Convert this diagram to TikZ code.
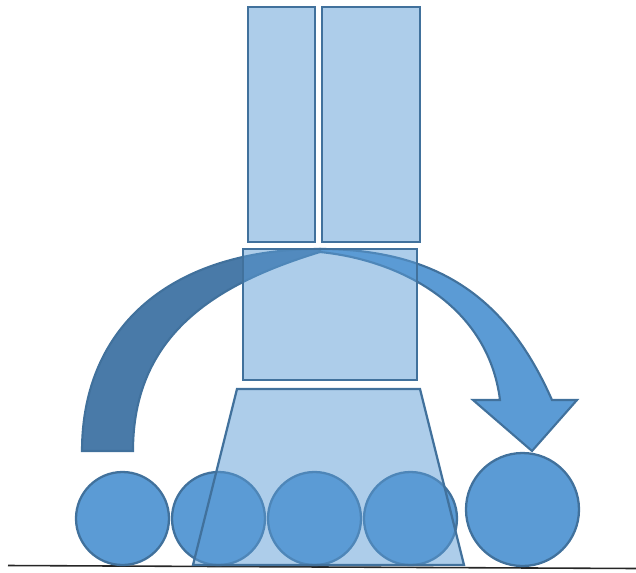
\documentclass[tikz,border=0pt]{standalone}
\usepackage{tikz}
\definecolor{officeblue}{RGB}{91,155,213}
\definecolor{edgeblue}{RGB}{65,113,156}
\definecolor{shadeblue}{RGB}{73,122,168}
\begin{document}
\begin{tikzpicture}[
    x=0.02cm, y=-0.02cm,
    part/.style={draw=edgeblue, line width=1.3pt, fill=officeblue, fill opacity=0.5},
    wheel/.style={draw=edgeblue, line width=1.3pt, fill=officeblue},
    band/.style={draw=edgeblue, line width=1.2pt, line join=miter}
]
\useasboundingbox (0,0) rectangle (636,572);
% ground line
\coordinate (groundL) at (8,565.5);
\coordinate (groundR) at (636,568.5);
\draw[line width=0.9pt, black!85] (groundL) -- (groundR);
% wheels
\foreach \cx [count=\i] in {122.5,218.5,314.5,410.5}
    \draw[wheel] (\cx,518.5) circle[radius=46.5];
\draw[wheel] (522.5,509.5) circle[radius=56.5];
% curved arrow, back half
\coordinate (topout) at (320,249);
\coordinate (topin) at (320,252);
\draw[band, fill=shadeblue] (82,451)
    .. controls (82,326) and (172,249) .. (topout)
    -- (topin)
    .. controls (215,284) and (133,335) .. (133,451)
    -- cycle;
% curved arrow, front half with head
\draw[band, fill=officeblue] (topout)
    .. controls (450,249) and (512,310) .. (552,400)
    -- (577,400) -- (532,451) -- (473,400) -- (500,400)
    .. controls (488,305) and (400,260) .. (topin)
    -- cycle;
% body parts
\draw[part] (248,7) rectangle (315,242);
\draw[part] (322,7) rectangle (420,242);
\draw[part] (243,249) rectangle (417,380);
\draw[part] (237,389) -- (420,389) -- (464,565) -- (193,565) -- cycle;
\end{tikzpicture}
\end{document}
